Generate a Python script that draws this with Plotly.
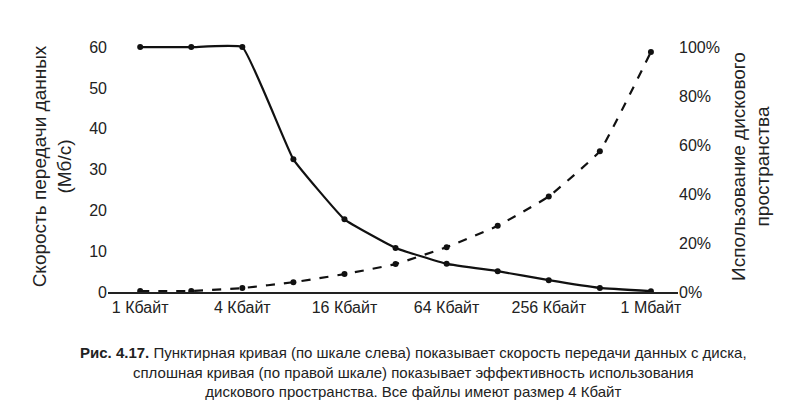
import plotly.graph_objects as go

x_labels = ["1 Кбайт", "4 Кбайт", "16 Кбайт", "64 Кбайт", "256 Кбайт", "1 Мбайт"]
rate = [60, 60, 60, 32.5, 17.8, 10.8, 6.9, 5.1, 2.9, 1.0, 0.2]
usage = [0.4, 0.4, 1.6, 4.0, 7.3, 11.4, 18.3, 27.0, 39.0, 57.5, 98.0]
pos = list(range(len(rate)))
tick_pos = [0, 2, 4, 6, 8, 10]

font = "Liberation Sans Narrow, Liberation Sans, Arial"
fig = go.Figure()
fig.add_trace(go.Scatter(x=pos, y=rate, mode="lines+markers", line=dict(color="#111", width=2.2, shape="spline", smoothing=0.3),
                         marker=dict(size=6, color="#111"), yaxis="y"))
fig.add_trace(go.Scatter(x=pos, y=usage, mode="lines+markers", line=dict(color="#111", width=2.2, dash="dash", shape="spline", smoothing=0.3),
                         marker=dict(size=6, color="#111"), yaxis="y2"))
fig.update_layout(
    width=800, height=413, margin=dict(l=100, r=130, t=33, b=129),
    paper_bgcolor="white", plot_bgcolor="white", showlegend=False,
    font=dict(family=font, size=16, color="#222"),
    xaxis=dict(range=[-0.63, 10.53], tickvals=tick_pos, ticktext=x_labels, showgrid=False, zeroline=False,
               showline=True, linecolor="#222", linewidth=1.5, ticks=""),
    yaxis=dict(range=[0, 61.5], tickvals=[0, 10, 20, 30, 40, 50, 60], showgrid=False, zeroline=False,
               ticks="", showline=False,
               title=dict(text="Скорость передачи данных<br>(Мб/с)", standoff=12)),
    yaxis2=dict(range=[0, 102.45], overlaying="y", side="right", tickvals=[0, 20, 40, 60, 80, 100],
                ticktext=["0%", "20%", "40%", "60%", "80%", "100%"], showgrid=False, zeroline=False,
                ticks="",
                title=dict(text="Использование дискового<br>пространства", standoff=12)),
)
fig.add_annotation(xref="paper", yref="paper", x=0.5, y=-0.2, yanchor="top", showarrow=False, align="center",
                   xshift=20,
                   text="<b>Рис. 4.17.</b> Пунктирная кривая (по шкале слева) показывает скорость передачи данных с диска,<br>"
                        "сплошная кривая (по правой шкале) показывает эффективность использования<br>"
                        "дискового пространства. Все файлы имеют размер 4 Кбайт",
                   font=dict(size=15, family=font, color="#222"))
fig.write_html("out.html")
